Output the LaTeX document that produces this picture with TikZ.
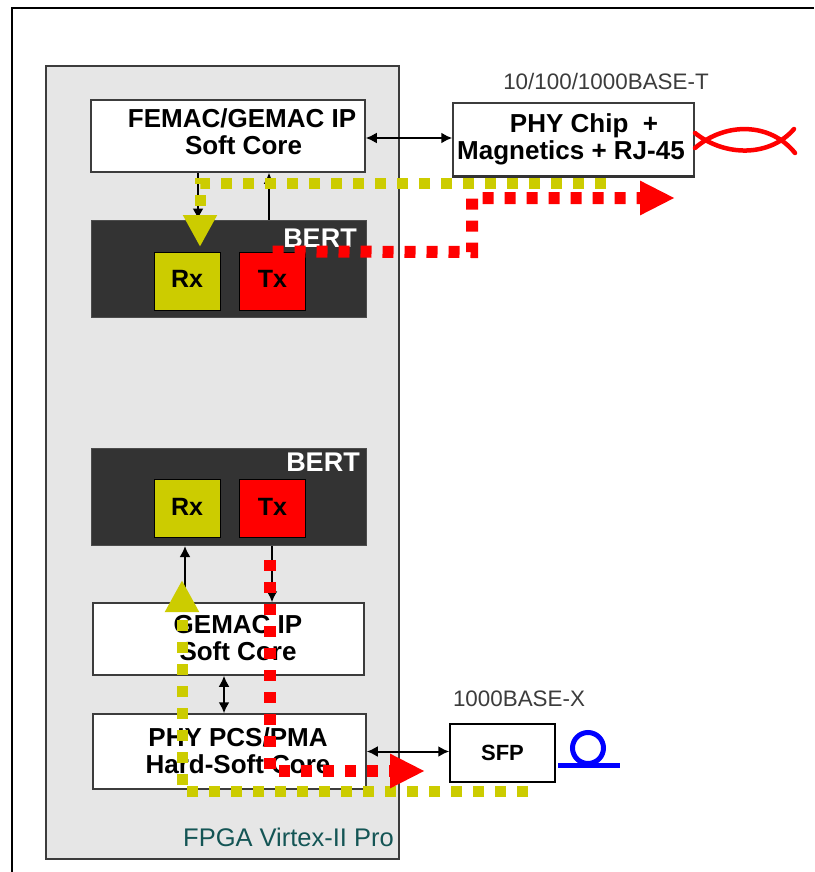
\documentclass[tikz,border=0pt]{standalone}
\usepackage{fontspec}
\setmainfont{Liberation Sans}
\usetikzlibrary{arrows.meta,calc,positioning}
\definecolor{panelgray}{RGB}{230,230,230}
\definecolor{bertdark}{RGB}{51,51,51}
\definecolor{rxyellow}{RGB}{204,204,0}
\definecolor{txred}{RGB}{255,0,0}
\definecolor{fpgateal}{RGB}{20,85,85}
\definecolor{wiregray}{RGB}{60,60,60}
\newcommand{\fsize}[1]{\fontsize{#1}{27}\selectfont}

\begin{document}
\begin{tikzpicture}[x=1pt,y=-1pt,>=Latex,
    block/.style={draw=wiregray,line width=1.5pt,fill=white,inner sep=0pt},
    bertbox/.style={draw=black!70,line width=1pt,fill=bertdark,inner sep=0pt,minimum width=275pt,minimum height=97pt},
    portbox/.style={draw=black,line width=1pt,inner sep=0pt,minimum width=66pt,minimum height=58pt,text depth=4pt,font=\bfseries\fsize{25}},
    blocktext/.style={align=center,inner sep=0pt,font=\bfseries\fsize{26}},
    berttext/.style={text=white,inner sep=0pt,font=\bfseries\fsize{27}},
    basetext/.style={text=wiregray,inner sep=0pt,font=\fsize{22.4}},
    link/.style={line width=2pt,{Latex[length=11pt,width=11pt]}-{Latex[length=11pt,width=11pt]}},
    linkup/.style={line width=2pt,-{Latex[length=11pt,width=11pt]}},
    yellowflow/.style={draw=rxyellow,line width=11pt,dash pattern=on 11pt off 11pt,-{Triangle[length=32pt,width=32pt]}},
    redflow/.style={draw=txred,line width=12pt,dash pattern=on 11pt off 11pt,-{Triangle[length=35pt,width=32pt]}}]
  \useasboundingbox (0,0) rectangle (814,872);
  \fill[white] (0,0) rectangle (814,872);
  % outer frame
  \draw[line width=2pt] (12,872) -- (12,8.5) -- (814,8.5);

  \node[draw=wiregray,line width=1.5pt,fill=panelgray,inner sep=0pt,minimum width=353pt,minimum height=793pt] (fpga) at (222.5,462.5) {};
  \node[text=fpgateal,inner sep=0pt,font=\fsize{25.5}] (fpgalabel) at (288.5,837) {FPGA Virtex-II Pro};

  % upper chain
  \node[block,minimum width=274pt,minimum height=72pt] (femac) at (228,136) {};
  \node[blocktext] (femactext) at (242,132) {FEMAC/GEMAC IP\\\hspace*{3pt}Soft Core};
  \node[bertbox] (bertA) at (228.5,268.5) {};
  \node[berttext] (bertAtext) at (320,238) {BERT};
  \node[portbox,fill=rxyellow] (rxA) at (187,281) {Rx};
  \node[portbox,fill=txred] (txA) at (272.5,281) {Tx};

  % lower chain
  \node[bertbox] (bertB) at (228.5,497) {};
  \node[berttext] (bertBtext) at (323,462) {BERT};
  \node[portbox,fill=rxyellow] (rxB) at (187,508.5) {Rx};
  \node[portbox,fill=txred] (txB) at (272.5,508.5) {Tx};
  \node[block,minimum width=271pt,minimum height=72pt] (gemac) at (228.5,639) {};
  \node[blocktext] (gemactext) at (238,638.5) {GEMAC IP\\Soft Core};
  \node[block,minimum width=273pt,minimum height=75pt] (phypcs) at (229.5,751.5) {};
  \node[blocktext] (phypcstext) at (238,750.5) {PHY PCS/PMA\\Hard-Soft Core};

  % outside the FPGA
  \node[block,minimum width=241pt,minimum height=73pt] (phychip) at (573.5,139.5) {};
  \draw[line width=3pt,bertdark] (phychip.south west) -- (phychip.south east);
  \node[blocktext] (phychiptext) at (571,139) {\hspace*{26pt}PHY Chip\ \ +\\Magnetics + RJ-45};
  \node[basetext] (baseT) at (606,81) {10/100/1000BASE-T};
  \node[block,draw=black,minimum width=105pt,minimum height=58pt,font=\bfseries\fsize{22}] (sfp) at (502.5,753) {SFP};
  \node[basetext] (baseX) at (519,699) {1000BASE-X};

  % links
  \draw[linkup] ([xshift=41pt]femac.south |- bertA.north) -- ([xshift=41pt]femac.south);
  \draw[linkup] ([xshift=-30pt]femac.south) -- ([xshift=-30pt]femac.south |- bertA.north);
  \draw[link] ([yshift=-2pt]femac.east) -- ([yshift=-2pt]femac.east -| phychip.west);
  \draw[linkup] ([xshift=-43.5pt]gemac.north) -- ([xshift=-43.5pt]bertB.south);
  \draw[linkup] ([xshift=43.5pt]bertB.south) -- ([xshift=43.5pt]gemac.north);
  \draw[link] ([xshift=-4.5pt]gemac.south) -- ([xshift=-4.5pt]gemac.south |- phypcs.north);
  \draw[link] (phypcs.east) -- (phypcs.east -| sfp.west);

  % twisted pair
  \coordinate (pairA) at (695,133);
  \coordinate (pairB) at (695,148);
  \coordinate (pairC) at (795,153);
  \coordinate (pairD) at (794,129);
  \draw[txred,line width=4.5pt,line cap=round] (pairA) .. controls (725,157) and (770,157) .. (pairD);
  \draw[txred,line width=4.5pt,line cap=round] (pairB) .. controls (725,122) and (770,122) .. (pairC);

  % fibre loop
  \coordinate (fibreL) at (558,765);
  \coordinate (fibreR) at (620,765);
  \coordinate (fibreC) at (588,748);
  \draw[blue,line width=5pt] (fibreC) circle (15.5);
  \draw[blue,line width=5pt] (fibreL) -- (fibreR);

  % traffic paths
  \coordinate (yelA) at (606,183);
  \coordinate (yelB) at (200,183);
  \coordinate (yelC) at (200,247);
  \draw[yellowflow] (yelA) -- (yelB) -- (yelC);
  \coordinate (redB) at (472,252);
  \coordinate (redC) at (472,198);
  \coordinate (redD) at (675,198);
  \draw[redflow] (txA.north) -- (redB) -- (redC) -- (redD);
  \coordinate (yelD) at (528,791);
  \coordinate (yelE) at (182,791);
  \coordinate (yelF) at (182,580);
  \draw[yellowflow] (yelD) -- (yelE) -- (yelF);
  \coordinate (redE) at (270,560);
  \coordinate (redF) at (270,771);
  \coordinate (redG) at (425,771);
  \draw[redflow] (redE) -- (redF) -- (redG);
\end{tikzpicture}
\end{document}
